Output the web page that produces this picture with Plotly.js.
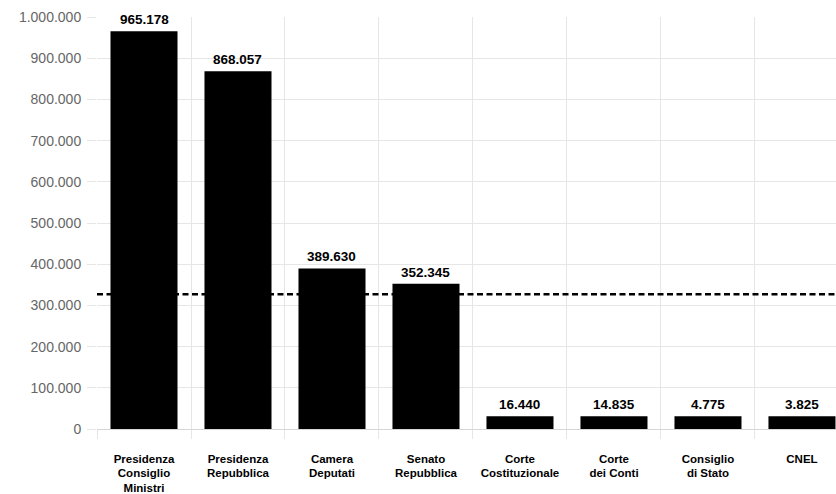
<!DOCTYPE html>
<html>
<head>
<meta charset="utf-8">
<script src="https://cdn.plot.ly/plotly-3.0.1.min.js"></script>
<style>
  html, body { margin: 0; padding: 0; background: #fff; overflow: hidden; }
  #chart { width: 836px; height: 494px; }
</style>
</head>
<body>
<div id="chart"></div>
<script>
// Data
const categories = [
  "Presidenza<br>Consiglio<br>Ministri",
  "Presidenza<br>Repubblica",
  "Camera<br>Deputati",
  "Senato<br>Repubblica",
  "Corte<br>Costituzionale",
  "Corte<br>dei Conti",
  "Consiglio<br>di Stato",
  "CNEL"
];
const values = [965178, 868057, 389630, 352345, 16440, 14835, 4775, 3825];
const yTickVals = [0, 100000, 200000, 300000, 400000, 500000, 600000, 700000, 800000, 900000, 1000000];

// Style: minimum visible bar length (like a minBarLength option), in axis units
const MIN_BAR = 31000;
const shown = values.map(v => Math.max(v, MIN_BAR));
const mean = values.reduce((a, b) => a + b, 0) / values.length;

const fmt = v => v.toString().replace(/\B(?=(\d{3})+(?!\d))/g, ".");

const trace = {
  type: "bar",
  x: categories,
  y: shown,
  marker: { color: "#000000", line: { width: 0 } },
  hoverinfo: "skip"
};

const annotations = categories.map((c, i) => ({
  x: c, y: shown[i], xref: "x", yref: "y",
  text: fmt(values[i]),
  showarrow: false, yanchor: "bottom", yshift: 2,
  font: { family: "Liberation Sans, Arial, sans-serif", size: 13.5, color: "#000", weight: "bold" }
}));

const layout = {
  width: 836, height: 494,
  margin: { l: 97, r: 0, t: 16.5, b: 65 },
  paper_bgcolor: "#fff", plot_bgcolor: "#fff",
  separators: ",.",
  showlegend: false,
  bargap: 0.287,
  font: { family: "Liberation Sans, Arial, sans-serif" },
  xaxis: {
    type: "category",
    range: [-0.5, 7.362],
    tickson: "boundaries",
    ticks: "outside", ticklen: 9, tickcolor: "#e6e6e6", tickwidth: 1,
    showgrid: true, gridcolor: "#e6e6e6", gridwidth: 1,
    showline: false, zeroline: false,
    tickfont: { family: "Liberation Sans, Arial, sans-serif", size: 11.5, color: "#000", weight: "bold" },
    ticklabelstandoff: 21,
    fixedrange: true
  },
  yaxis: {
    range: [0, 1000000],
    tickvals: yTickVals,
    tickformat: ",d",
    ticks: "outside", ticklen: 9, tickcolor: "#e6e6e6", tickwidth: 1,
    showgrid: true, gridcolor: "#e6e6e6", gridwidth: 1,
    zeroline: true, zerolinecolor: "#d6d6d6", zerolinewidth: 1,
    showline: false,
    tickfont: { family: "Liberation Sans, Arial, sans-serif", size: 14, color: "#666" },
    ticklabelstandoff: 3,
    fixedrange: true
  },
  shapes: [{
    type: "line", xref: "paper", x0: 0, x1: 1, yref: "y", y0: mean, y1: mean,
    line: { color: "#000", width: 2.5, dash: "6px,3.5px" },
    layer: "above"
  }],
  annotations: annotations
};

Plotly.newPlot("chart", [trace], layout, { displayModeBar: false, staticPlot: true });
</script>
</body>
</html>
